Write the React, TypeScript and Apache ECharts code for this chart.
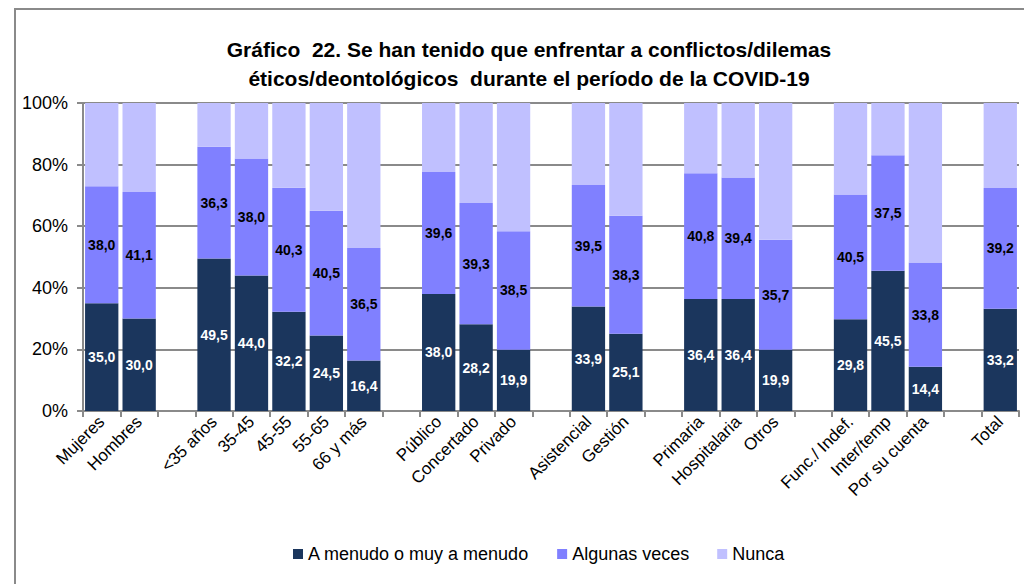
import React, { useEffect, useRef } from "react";
import * as echarts from "echarts";

const categories = [
  "Mujeres", "Hombres", "",
  "<35 años", "35-45", "45-55", "55-65", "66 y más", "",
  "Público", "Concertado", "Privado", "",
  "Asistencial", "Gestión", "",
  "Primaria", "Hospitalaria", "Otros", "",
  "Func./ Indef.", "Inter/temp", "Por su cuenta", "",
  "Total",
];

const aMenudo = [35.0, 30.0, null, 49.5, 44.0, 32.2, 24.5, 16.4, null, 38.0, 28.2, 19.9, null, 33.9, 25.1, null, 36.4, 36.4, 19.9, null, 29.8, 45.5, 14.4, null, 33.2];
const algunas = [38.0, 41.1, null, 36.3, 38.0, 40.3, 40.5, 36.5, null, 39.6, 39.3, 38.5, null, 39.5, 38.3, null, 40.8, 39.4, 35.7, null, 40.5, 37.5, 33.8, null, 39.2];
const nunca = [27.0, 28.9, null, 14.2, 18.0, 27.5, 35.0, 47.1, null, 22.4, 32.5, 41.6, null, 26.6, 36.6, null, 22.8, 24.2, 44.4, null, 29.7, 17.0, 51.8, null, 27.6];

const seriesNames = ["A menudo o muy a menudo", "Algunas veces", "Nunca"];
const colors = ["#1b365d", "#8080ff", "#c0c0ff"];
const yTicks = [0, 20, 40, 60, 80, 100];

const FONT = "Liberation Sans, Arial, sans-serif";

export default function App() {
  const ref = useRef<HTMLDivElement>(null);
  useEffect(() => {
    if (!ref.current) return;
    const chart = echarts.init(ref.current, null, { renderer: "svg" });
    const fmt = (p: any) => (p.value == null ? "" : Number(p.value).toFixed(1).replace(".", ","));
    const mk = (name: string, data: any[], color: string, labelColor: string | null) => ({
      name,
      type: "bar",
      stack: "s",
      data: data.map((v) => (v == null ? "-" : v)),
      barCategoryGap: "11%",
      itemStyle: { color },
      label: labelColor
        ? {
            show: true,
            position: "inside",
            color: labelColor,
            fontFamily: FONT,
            fontWeight: "bold",
            fontSize: 14,
            formatter: fmt,
          }
        : { show: false },
    });
    chart.setOption({
      animation: false,
      textStyle: { fontFamily: FONT },
      graphic: [
        {
          type: "rect",
          shape: { x: 15, y: 9, width: 1100, height: 700 },
          style: { fill: "none", stroke: "#8a8a8a", lineWidth: 2 },
          silent: true,
        },
      ],
      title: {
        text: "Gráfico  22. Se han tenido que enfrentar a conflictos/dilemas\néticos/deontológicos  durante el período de la COVID-19",
        left: 524,
        textAlign: "center",
        top: 30,
        textStyle: {
          fontFamily: FONT,
          fontWeight: "bold",
          fontSize: 21,
          lineHeight: 29,
          color: "#000",
        },
      },
      legend: {
        bottom: 16,
        left: 288,
        itemWidth: 10,
        itemHeight: 10,
        itemGap: 28,
        data: seriesNames,
        textStyle: { fontFamily: FONT, fontSize: 18, color: "#000" },
        icon: "rect",
      },
      grid: { left: 83, right: 5, top: 103, bottom: 173 },
      xAxis: {
        type: "category",
        data: categories,
        axisLine: { lineStyle: { color: "#8a8a8a", width: 2 } },
        axisTick: { show: true, length: 6, lineStyle: { color: "#8a8a8a", width: 2 } },
        axisLabel: {
          interval: 0,
          rotate: 45,
          fontFamily: FONT,
          fontSize: 17,
          color: "#000",
          margin: 8,
        },
      },
      yAxis: {
        type: "value",
        min: 0,
        max: 100,
        interval: 20,
        axisLine: { show: true, lineStyle: { color: "#8a8a8a", width: 2 } },
        axisTick: { show: true, length: 6, lineStyle: { color: "#8a8a8a", width: 2 } },
        splitLine: { lineStyle: { color: "#8a8a8a", width: 2 } },
        axisLabel: {
          formatter: (v: number) => (yTicks.includes(v) ? v + "%" : ""),
          fontFamily: FONT,
          fontSize: 18,
          color: "#000",
          margin: 15,
        },
      },
      series: [
        mk(seriesNames[0], aMenudo, colors[0], "#ffffff"),
        mk(seriesNames[1], algunas, colors[1], "#000000"),
        mk(seriesNames[2], nunca, colors[2], null),
      ],
    });
    return () => chart.dispose();
  }, []);
  return <div ref={ref} style={{ width: 1024, height: 584, position: "absolute", left: 0, top: 0, background: "#fff" }} />;
}
